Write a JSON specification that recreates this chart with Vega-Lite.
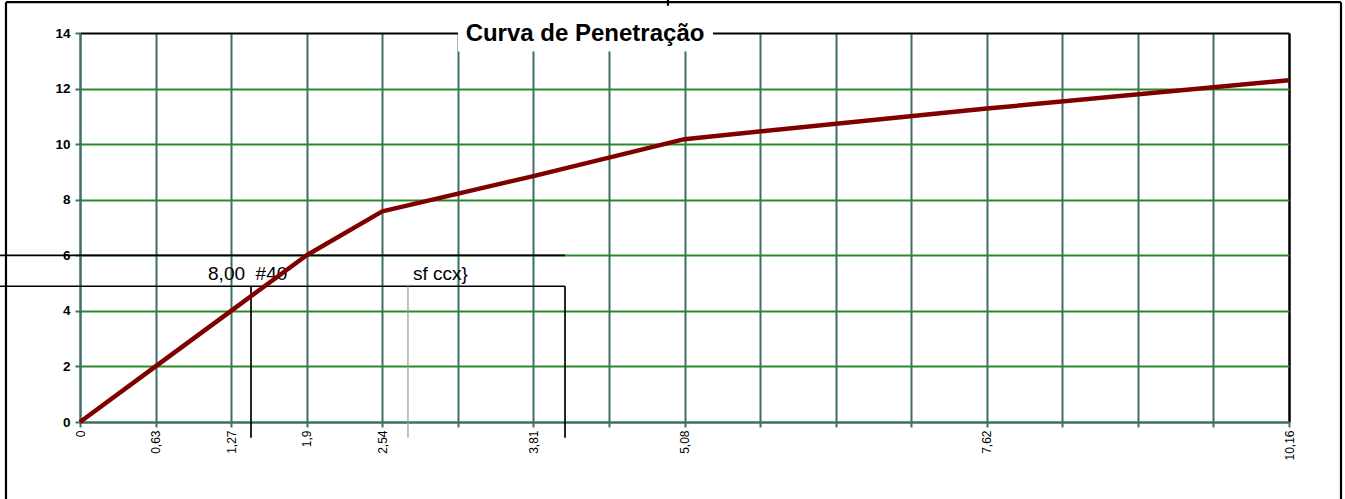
{
  "$schema": "https://vega.github.io/schema/vega-lite/v6.json",
  "width": 1209,
  "height": 389,
  "autosize": {"type": "none"},
  "padding": {"left": 80, "top": 33, "right": 56, "bottom": 77},
  "background": "white",
  "config": {"view": {"stroke": null}, "font": "Liberation Sans"},
  "datasets": {
    "curve": [
      {"penetracao": 0, "carga": 0},
      {"penetracao": 0.635, "carga": 2},
      {"penetracao": 1.27, "carga": 4},
      {"penetracao": 1.905, "carga": 6},
      {"penetracao": 2.54, "carga": 7.58},
      {"penetracao": 3.81, "carga": 8.85},
      {"penetracao": 5.08, "carga": 10.18},
      {"penetracao": 7.62, "carga": 11.28},
      {"penetracao": 10.16, "carga": 12.3}
    ],
    "segments": [
      {"kind": "frame", "x": -0.622, "x2": -0.622, "y": 15.11, "y2": -3},
      {"kind": "frame", "x": -0.622, "x2": 10.597, "y": 15.11, "y2": 15.11},
      {"kind": "frame", "x": 10.597, "x2": 10.597, "y": 15.11, "y2": -3},
      {"kind": "frame", "x": 4.941, "x2": 4.941, "y": 15.2, "y2": 14.98},
      {"kind": "black", "x": -0.672, "x2": 4.076, "y": 6, "y2": 6},
      {"kind": "black", "x": -0.672, "x2": 4.076, "y": 4.885, "y2": 4.885},
      {"kind": "black", "x": 1.437, "x2": 1.437, "y": 4.885, "y2": -0.57},
      {"kind": "black", "x": 4.076, "x2": 4.076, "y": 4.885, "y2": -0.57},
      {"kind": "gray", "x": 2.756, "x2": 2.756, "y": 4.885, "y2": -0.57}
    ],
    "notes": [
      {"x": 1.076, "y": 5.1, "text": "8,00\u00a0 #40"},
      {"x": 2.798, "y": 5.1, "text": "sf ccx}"}
    ]
  },
  "layer": [
    {
      "data": {"name": "curve"},
      "mark": {"type": "line", "opacity": 0},
      "encoding": {
        "x": {
          "field": "penetracao", "type": "quantitative",
          "scale": {"domain": [0, 10.16], "nice": false, "zero": false},
          "axis": {
            "title": null,
            "values": [0, 0.635, 1.27, 1.905, 2.54, 3.175, 3.81, 4.445, 5.08, 5.715, 6.35, 6.985, 7.62, 8.255, 8.89, 9.525, 10.16],
            "labelExpr": "['0','0,63','1,27','1,9','2,54','','3,81','','5,08','','','','7,62','','','','10,16'][round(datum.value/0.635)]",
            "labelAngle": 270,
            "labelFont": "Liberation Sans",
            "labelFontSize": 12,
            "labelColor": "#000000",
            "labelPadding": 3,
            "labelFlush": false,
            "labelOverlap": false,
            "labelBound": false,
            "tickColor": "#3d6e69",
            "tickSize": 5,
            "tickWidth": 2,
            "domainColor": "#3d6e69",
            "domainWidth": 2,
            "grid": true,
            "gridColor": {"condition": {"test": "datum.value > 10.1", "value": "#000000"}, "value": "#3d6e69"},
            "gridWidth": {"condition": {"test": "datum.value > 10.1", "value": 2.5}, "value": 2},
            "gridOpacity": 1
          }
        },
        "y": {
          "field": "carga", "type": "quantitative",
          "scale": {"domain": [0, 14], "nice": false, "zero": false},
          "axis": {
            "title": null,
            "values": [0, 2, 4, 6, 8, 10, 12, 14],
            "labelFont": "Liberation Sans",
            "labelFontWeight": "bold",
            "labelFontSize": 13.5,
            "labelColor": "#000000",
            "labelPadding": 5,
            "labelFlush": false,
            "labelOverlap": false,
            "tickColor": "#3d6e69",
            "tickSize": 5,
            "tickWidth": 2,
            "domainColor": "#3d6e69",
            "domainWidth": 2,
            "grid": true,
            "gridColor": {"condition": {"test": "datum.value > 13.9", "value": "#000000"}, "value": "#2a8a2a"},
            "gridWidth": 2,
            "gridOpacity": 1
          }
        }
      }
    },
    {
      "data": {"values": [{}]},
      "mark": {"type": "rect", "fill": "#ffffff", "stroke": null},
      "encoding": {
        "x": {"datum": 3.176, "type": "quantitative", "scale": {"domain": [0, 10.16], "nice": false, "zero": false}},
        "x2": {"datum": 5.32},
        "y": {"datum": 14.66, "type": "quantitative", "scale": {"domain": [0, 14], "nice": false, "zero": false}},
        "y2": {"datum": 13.33}
      }
    },
    {
      "data": {"name": "segments"},
      "mark": {"type": "rule"},
      "encoding": {
        "x": {"field": "x", "type": "quantitative", "scale": {"domain": [0, 10.16], "nice": false, "zero": false}},
        "x2": {"field": "x2"},
        "y": {"field": "y", "type": "quantitative", "scale": {"domain": [0, 14], "nice": false, "zero": false}},
        "y2": {"field": "y2"},
        "color": {"field": "kind", "type": "nominal", "scale": {"domain": ["frame", "black", "gray"], "range": ["#000000", "#000000", "#999999"]}, "legend": null},
        "strokeWidth": {"field": "kind", "type": "nominal", "scale": {"domain": ["frame", "black", "gray"], "range": [2.2, 1.2, 1.2]}, "legend": null}
      }
    },
    {
      "data": {"name": "notes"},
      "mark": {"type": "text", "align": "left", "baseline": "alphabetic", "font": "Liberation Sans", "fontSize": 19, "color": "#000000"},
      "encoding": {
        "x": {"field": "x", "type": "quantitative", "scale": {"domain": [0, 10.16], "nice": false, "zero": false}},
        "y": {"field": "y", "type": "quantitative", "scale": {"domain": [0, 14], "nice": false, "zero": false}},
        "text": {"field": "text"}
      }
    },
    {
      "data": {"name": "curve"},
      "mark": {"type": "line", "color": "#800000", "strokeWidth": 4.5, "strokeJoin": "round"},
      "encoding": {
        "x": {"field": "penetracao", "type": "quantitative", "scale": {"domain": [0, 10.16], "nice": false, "zero": false}},
        "y": {"field": "carga", "type": "quantitative", "scale": {"domain": [0, 14], "nice": false, "zero": false}}
      }
    },
    {
      "data": {"values": [{"titulo": "Curva de Penetração"}]},
      "mark": {"type": "text", "align": "center", "baseline": "alphabetic", "font": "Liberation Sans", "fontSize": 24, "fontWeight": "bold", "color": "#000000"},
      "encoding": {
        "x": {"datum": 4.244, "type": "quantitative", "scale": {"domain": [0, 10.16], "nice": false, "zero": false}},
        "y": {"datum": 13.7, "type": "quantitative", "scale": {"domain": [0, 14], "nice": false, "zero": false}},
        "text": {"field": "titulo"}
      }
    }
  ]
}
